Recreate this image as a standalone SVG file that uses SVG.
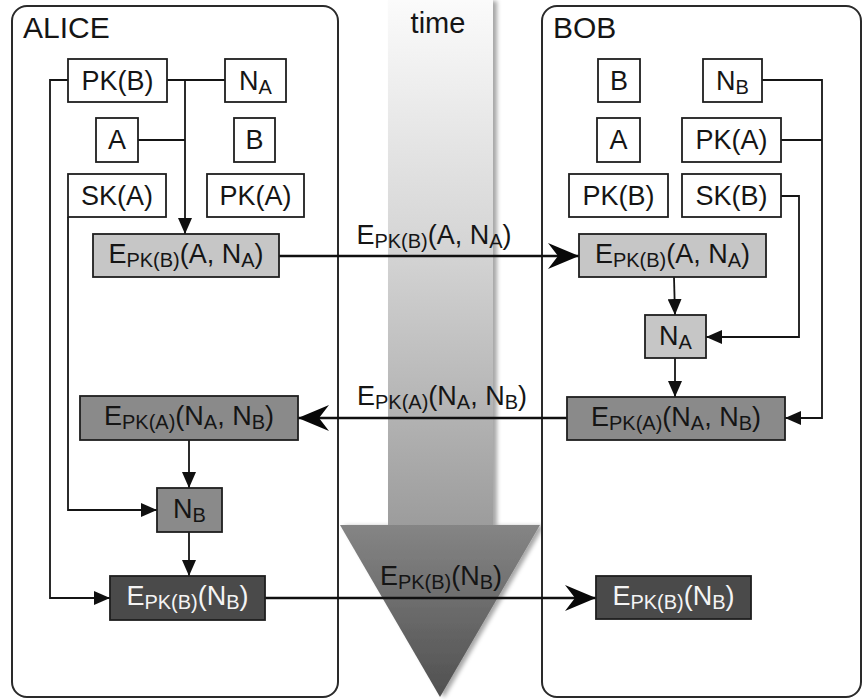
<svg xmlns="http://www.w3.org/2000/svg" width="863" height="700" viewBox="0 0 863 700">
<style>
.panel{fill:#fff;stroke:#2a2a2a;stroke-width:2}
.box{fill:#fff;stroke:#1e1e1e;stroke-width:1.8}
.light{fill:#c6c6c6}
.mid{fill:#8a8a8a}
.dark{fill:#4a4a4a}
.t{font-family:"Liberation Sans",Arial,Helvetica,sans-serif;font-size:27px;text-anchor:middle;fill:#151515}
.w{fill:#f4f4f4}
.s{font-size:20px}
.big{font-family:"Liberation Sans",Arial,Helvetica,sans-serif;font-size:30px;fill:#151515}
.c{fill:none;stroke:#151515;stroke-width:1.8}
.m{fill:none;stroke:#101010;stroke-width:2.6}
</style>
<defs>
<linearGradient id="shaft" x1="0" y1="0" x2="0" y2="1">
<stop offset="0" stop-color="#fbfbfb"/>
<stop offset="0.5" stop-color="#d2d2d2"/>
<stop offset="1" stop-color="#9c9c9c"/>
</linearGradient>
<linearGradient id="head" x1="0" y1="0" x2="0" y2="1">
<stop offset="0" stop-color="#858585"/>
<stop offset="1" stop-color="#505050"/>
</linearGradient>
<filter id="sh" x="-20%" y="-5%" width="140%" height="110%">
<feDropShadow dx="4" dy="1" stdDeviation="2" flood-color="#000" flood-opacity="0.35"/>
</filter>
<marker id="tri" markerUnits="userSpaceOnUse" markerWidth="16" markerHeight="14" refX="16" refY="7" orient="auto">
<path d="M0,0 L16,7 L0,14 Z" fill="#101010"/>
</marker>
<marker id="barb" markerUnits="userSpaceOnUse" markerWidth="32" markerHeight="26" refX="31" refY="13" orient="auto">
<path d="M0,0 L31,13 L0,26 L10,13 Z" fill="#080808"/>
</marker>
</defs>

<g id="time-arrow" filter="url(#sh)">
<rect x="388" y="0" width="105" height="526" fill="url(#shaft)"/>
<polygon points="340,525 540,525 440,697" fill="url(#head)"/>
</g>
<text class="t" x="438" y="33" style="font-size:29px">time</text>

<g id="alice-panel">
<rect class="panel" x="12" y="6" width="326" height="691" rx="15"/>
<text class="big" x="23" y="38">ALICE</text>
</g>
<g id="bob-panel">
<rect class="panel" x="542" y="6" width="319" height="691" rx="15"/>
<text class="big" x="553" y="38">BOB</text>
</g>

<g id="connectors">
<path class="c" d="M167,80 H225"/>
<path class="c" d="M185,80 V234" marker-end="url(#tri)"/>
<path class="c" d="M138,140 H185"/>
<path class="c" d="M68,80 H50 V598 H110" marker-end="url(#tri)"/>
<path class="c" d="M68,217 V510 H157" marker-end="url(#tri)"/>
<path class="c" d="M189,440 V488" marker-end="url(#tri)"/>
<path class="c" d="M189,532 V576" marker-end="url(#tri)"/>
<path class="c" d="M762,80 H822 V418 H785" marker-end="url(#tri)"/>
<path class="c" d="M781,140 H822"/>
<path class="c" d="M781,196 H799 V337 H706" marker-end="url(#tri)"/>
<path class="c" d="M674,277 L675,315" marker-end="url(#tri)"/>
<path class="c" d="M675,358 V397" marker-end="url(#tri)"/>
<path class="m" d="M279,256 H579" marker-end="url(#barb)"/>
<path class="m" d="M567,418 H298" marker-end="url(#barb)"/>
<path class="m" d="M265,598 H596" marker-end="url(#barb)"/>
<text class="t" x="434" y="244">E<tspan class="s" dy="4">PK(B)</tspan><tspan dy="-4">(A, N</tspan><tspan class="s" dy="4">A</tspan><tspan dy="-4">)</tspan></text>
<text class="t" x="442" y="405">E<tspan class="s" dy="4">PK(A)</tspan><tspan dy="-4">(N</tspan><tspan class="s" dy="4">A</tspan><tspan dy="-4">, N</tspan><tspan class="s" dy="4">B</tspan><tspan dy="-4">)</tspan></text>
<text class="t" x="441" y="585">E<tspan class="s" dy="4">PK(B)</tspan><tspan dy="-4">(N</tspan><tspan class="s" dy="4">B</tspan><tspan dy="-4">)</tspan></text>
</g>

<g id="a-pkb"><rect class="box" x="68" y="59" width="99" height="43"/><text class="t" x="117.5" y="90">PK(B)</text></g>
<g id="a-na"><rect class="box" x="225" y="59" width="61" height="43"/><text class="t" x="255.5" y="90">N<tspan class="s" dy="4">A</tspan></text></g>
<g id="a-a"><rect class="box" x="96" y="118" width="42" height="44"/><text class="t" x="117" y="149">A</text></g>
<g id="a-b"><rect class="box" x="234" y="118" width="41" height="44"/><text class="t" x="254.5" y="149">B</text></g>
<g id="a-ska"><rect class="box" x="68" y="174" width="98" height="43"/><text class="t" x="117" y="205">SK(A)</text></g>
<g id="a-pka"><rect class="box" x="207" y="174" width="97" height="43"/><text class="t" x="255.5" y="205">PK(A)</text></g>
<g id="a-e1"><rect class="box light" x="93" y="234" width="186" height="43"/><text class="t" x="186" y="263">E<tspan class="s" dy="4">PK(B)</tspan><tspan dy="-4">(A, N</tspan><tspan class="s" dy="4">A</tspan><tspan dy="-4">)</tspan></text></g>
<g id="a-e2"><rect class="box mid" x="80" y="396" width="218" height="44"/><text class="t" x="189" y="425">E<tspan class="s" dy="4">PK(A)</tspan><tspan dy="-4">(N</tspan><tspan class="s" dy="4">A</tspan><tspan dy="-4">, N</tspan><tspan class="s" dy="4">B</tspan><tspan dy="-4">)</tspan></text></g>
<g id="a-nb"><rect class="box mid" x="157" y="488" width="65" height="44"/><text class="t" x="189.5" y="518">N<tspan class="s" dy="4">B</tspan></text></g>
<g id="a-e3"><rect class="box dark" x="110" y="576" width="155" height="44"/><text class="t w" x="187.5" y="605">E<tspan class="s" dy="4">PK(B)</tspan><tspan dy="-4">(N</tspan><tspan class="s" dy="4">B</tspan><tspan dy="-4">)</tspan></text></g>

<g id="b-b"><rect class="box" x="598" y="59" width="42" height="43"/><text class="t" x="619" y="90">B</text></g>
<g id="b-nb"><rect class="box" x="703" y="59" width="59" height="43"/><text class="t" x="732.5" y="90">N<tspan class="s" dy="4">B</tspan></text></g>
<g id="b-a"><rect class="box" x="597" y="118" width="43" height="44"/><text class="t" x="618.5" y="149">A</text></g>
<g id="b-pka"><rect class="box" x="682" y="118" width="99" height="44"/><text class="t" x="731.5" y="149">PK(A)</text></g>
<g id="b-pkb"><rect class="box" x="569" y="174" width="99" height="43"/><text class="t" x="618.5" y="205">PK(B)</text></g>
<g id="b-skb"><rect class="box" x="682" y="174" width="99" height="43"/><text class="t" x="731.5" y="205">SK(B)</text></g>
<g id="b-e1"><rect class="box light" x="579" y="234" width="187" height="43"/><text class="t" x="672.5" y="263">E<tspan class="s" dy="4">PK(B)</tspan><tspan dy="-4">(A, N</tspan><tspan class="s" dy="4">A</tspan><tspan dy="-4">)</tspan></text></g>
<g id="b-na"><rect class="box light" x="645" y="315" width="61" height="43"/><text class="t" x="675.5" y="345">N<tspan class="s" dy="4">A</tspan></text></g>
<g id="b-e2"><rect class="box mid" x="567" y="397" width="218" height="43"/><text class="t" x="676" y="426">E<tspan class="s" dy="4">PK(A)</tspan><tspan dy="-4">(N</tspan><tspan class="s" dy="4">A</tspan><tspan dy="-4">, N</tspan><tspan class="s" dy="4">B</tspan><tspan dy="-4">)</tspan></text></g>
<g id="b-e3"><rect class="box dark" x="596" y="576" width="155" height="43"/><text class="t w" x="673.5" y="605">E<tspan class="s" dy="4">PK(B)</tspan><tspan dy="-4">(N</tspan><tspan class="s" dy="4">B</tspan><tspan dy="-4">)</tspan></text></g>
</svg>
